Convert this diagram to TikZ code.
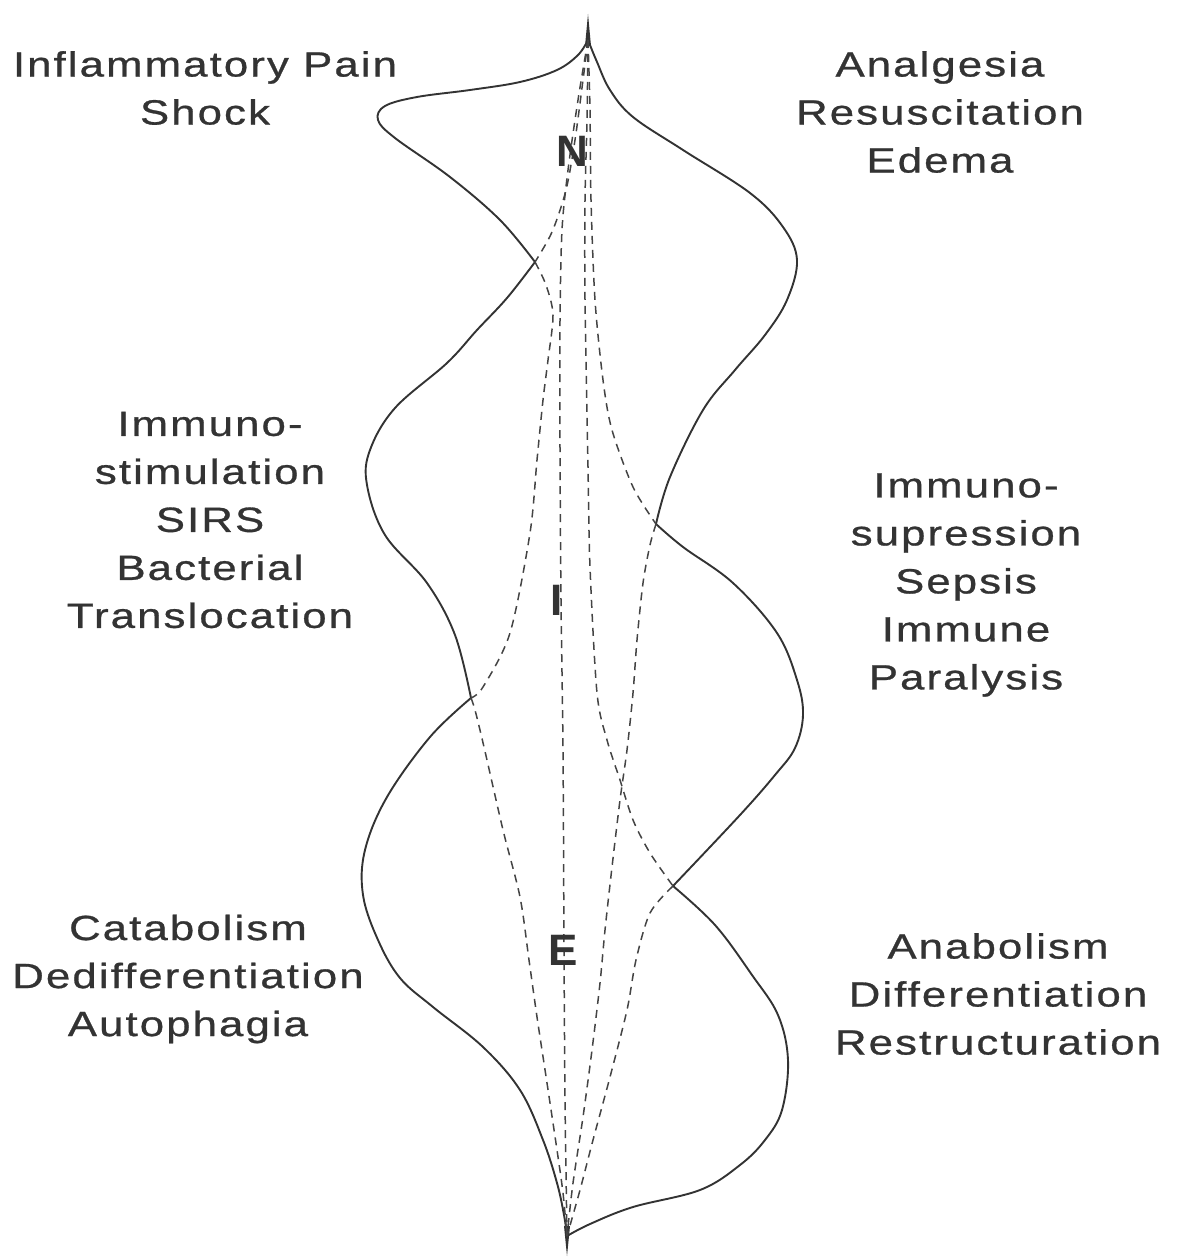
\documentclass[tikz,border=0pt]{standalone}
\usepackage{fontspec}
\usepackage{xcolor}
\newfontfamily\sidefont{Liberation Sans}[FakeStretch=1.25, LetterSpace=6, FakeBold=0.8, Ligatures=NoCommon]
\newfontfamily\phasefont{Liberation Sans}

\definecolor{ink}{HTML}{333333}
\definecolor{pencil}{HTML}{444444}

\begin{document}
\begin{tikzpicture}[x=1pt, y=-1pt,
    rimline/.style={line width=1.9pt, ink, line join=round, line cap=round},
    spindleline/.style={line width=1.5pt, pencil, dash pattern=on 8pt off 6pt},
    sidetext/.style={font=\sidefont\fontsize{35}{48}\selectfont, text=ink, align=center},
    phaseletter/.style={font=\phasefont\bfseries\fontsize{44}{44}\selectfont, text=ink}]
    \useasboundingbox (0,0) rectangle (1178,1257);

    % Tips and corners of the outline
    \coordinate (tip) at (588,40);
    \coordinate (LA) at (535,262);
    \coordinate (LB) at (471,698);
    \coordinate (RA) at (656,524);
    \coordinate (RB) at (673,886);
    \coordinate (base) at (567,1236);

    % Spikes at both ends
    \fill[ink] (588,14) -- (591,46) -- (585,46) -- cycle;
    \fill[ink] (564,1226) -- (570,1226) -- (567,1256) -- cycle;

    % Left outline
    \draw[rimline] plot[smooth, tension=0.6] coordinates {
        (tip) (578,55) (557,70) (520,82) (470,90) (417,97) (385,106) (378,120)
        (395,138) (450,177) (500,220) (LA)
    };
    \draw[rimline] plot[smooth, tension=0.6] coordinates {
        (LA) (507,298) (477,330) (447,363) (395,408) (370,450) (367,485)
        (385,535) (427,583) (455,635) (LB)
    };
    \draw[rimline] plot[smooth, tension=0.6] coordinates {
        (LB) (430,737) (387,797) (365,850) (363,895) (378,940) (400,978)
        (433,1007) (483,1047) (520,1090) (543,1140) (557,1183) (564,1215) (base)
    };

    % Right outline
    \draw[rimline] plot[smooth, tension=0.6] coordinates {
        (tip) (597,62) (610,90) (633,117) (683,150) (750,193) (783,227)
        (797,260) (787,300) (765,335) (735,370) (703,410) (670,477) (RA)
    };
    \draw[rimline] plot[smooth, tension=0.6] coordinates {
        (RA) (683,547) (733,583) (777,633) (797,680) (803,715) (795,748)
        (775,775) (740,815) (RB)
    };
    \draw[rimline] plot[smooth, tension=0.6] coordinates {
        (RB) (715,925) (752,975) (778,1015) (788,1060) (782,1110)
        (765,1140) (740,1165) (700,1190) (633,1207) (590,1224) (base)
    };

    % Dashed spindles, top half
    \draw[spindleline] plot[smooth] coordinates {
        (tip) (583,80) (575,140) (566,190) (552,232) (LA)
    };
    \draw[spindleline] plot[smooth] coordinates {
        (LA) (546,285) (553,315) (548,360) (543,400) (537,460) (530,533)
        (510,633) (483,687) (LB)
    };
    \draw[spindleline] plot[smooth] coordinates {
        (tip) (578,100) (568,170) (562,230) (560,320) (560,450) (561,600)
        (563,750) (564,950) (565,1100) (base)
    };
    \draw[spindleline] plot[smooth] coordinates {
        (tip) (587,120) (585,200) (585,300) (588,467) (590,567) (597,693)
        (607,740) (620,780) (633,820) (650,853) (RB)
    };
    \draw[spindleline] plot[smooth] coordinates {
        (tip) (590,110) (591,200) (595,300) (603,380) (612,430) (633,487) (RA)
    };

    % Dashed spindles, bottom half
    \draw[spindleline] plot[smooth] coordinates {
        (RA) (650,545) (643,583) (637,640) (633,693) (627,750) (620,800)
        (612,867) (605,930) (600,983) (592,1050) (583,1117) (573,1183) (base)
    };
    \draw[spindleline] plot[smooth] coordinates {
        (RB) (650,913) (636,960) (627,1010) (610,1077) (593,1140) (580,1190) (base)
    };
    \draw[spindleline] plot[smooth] coordinates {
        (LB) (475,710) (484,747) (503,830) (520,897) (529,960) (537,1017)
        (547,1083) (557,1150) (563,1193) (base)
    };

    % Phase letters
    \foreach \name/\x/\y in {N/572/151, I/557/600, E/563/950} {
        \node[phaseletter] (\name) at (\x,\y) {\name};
    }

    % Side texts
    \node[sidetext] (pain) at (205,88) {Inflammatory Pain\\Shock};
    \node[sidetext] (analgesia) at (940,112) {Analgesia\\Resuscitation\\Edema};
    \node[sidetext] (stim) at (210,520) {Immuno-\\stimulation\\SIRS\\Bacterial\\Translocation};
    \node[sidetext] (supp) at (966,585) {Immuno-\\supression\\Sepsis\\Immune\\Paralysis};
    \node[sidetext] (catab) at (188,979) {Catabolism\\Dedifferentiation\\Autophagia};
    \node[sidetext] (anab) at (998,994) {Anabolism\\Differentiation\\Restructuration};
\end{tikzpicture}
\end{document}
